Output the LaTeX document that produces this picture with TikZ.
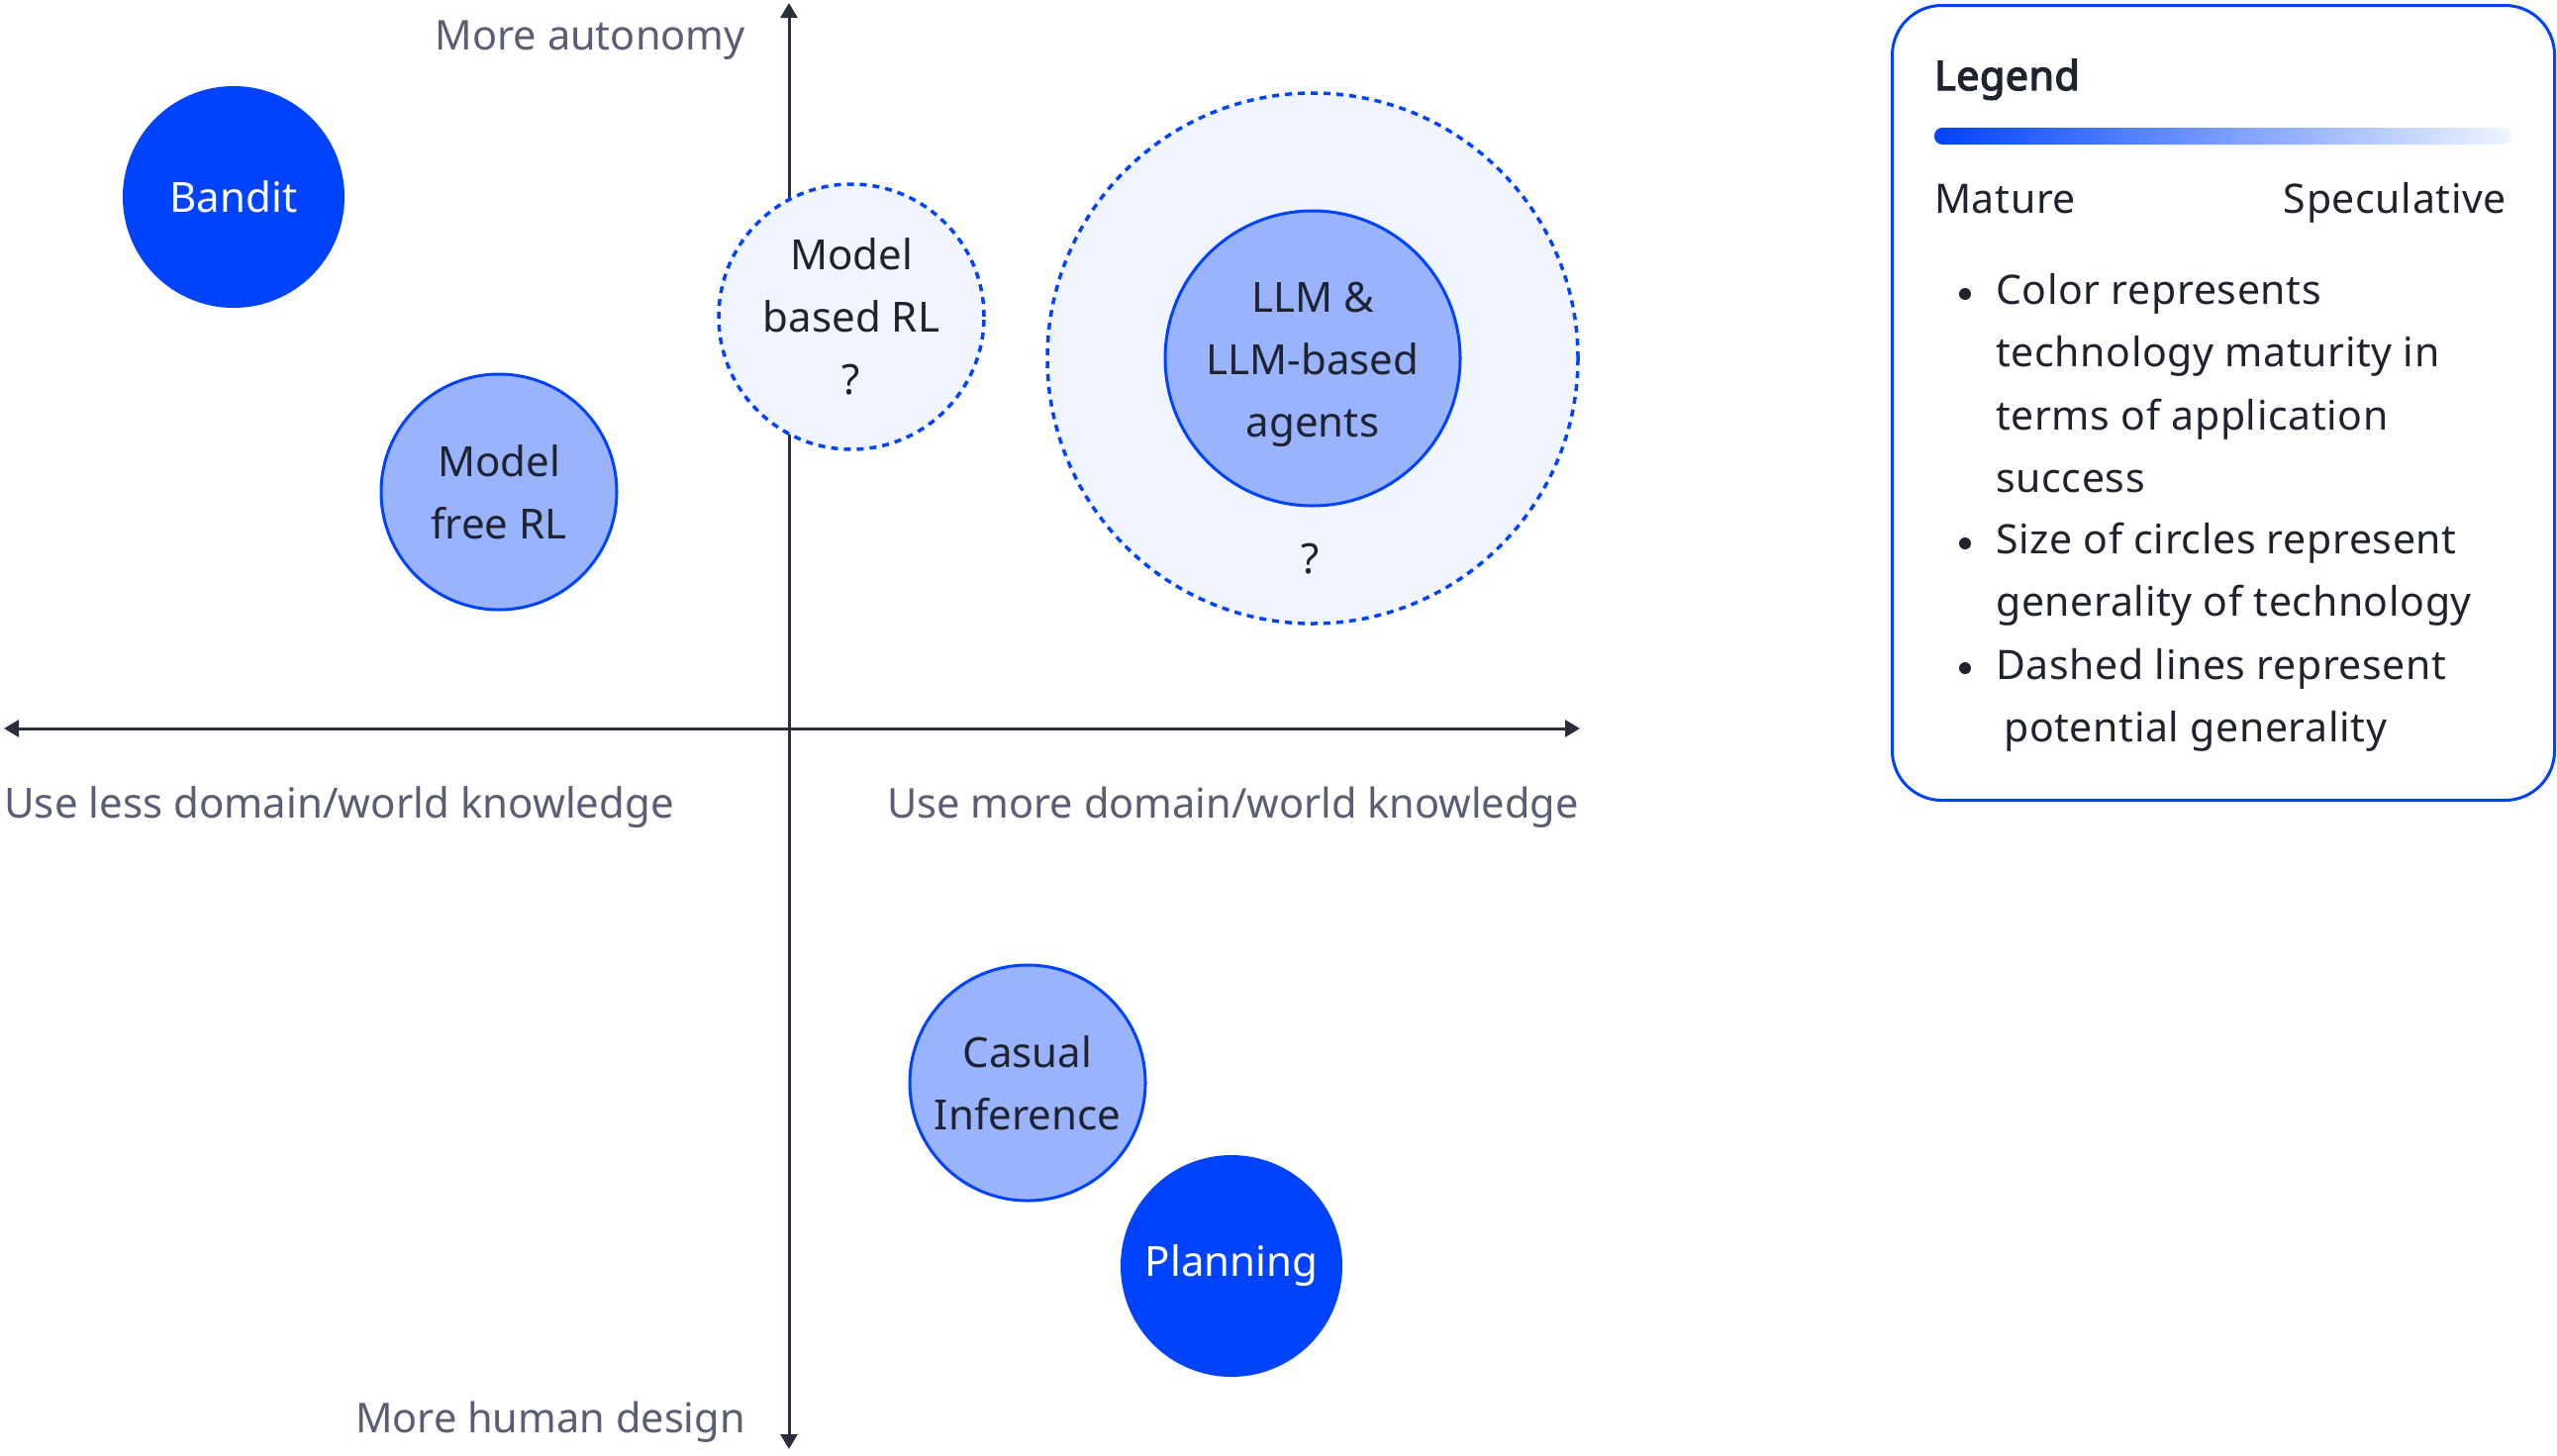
\documentclass[tikz,border=0pt]{standalone}
\usepackage{fontspec}
\setmainfont{Noto Sans}
\newfontfamily\legfont{Noto Sans}[LetterSpace=1.5]
\newfontfamily\legboldfont{Noto Sans}[FakeBold=3.5,LetterSpace=1.5]
\usetikzlibrary{arrows.meta}
\definecolor{deepblue}{HTML}{0043FF}
\definecolor{lightblue}{HTML}{99B3FF}
\definecolor{paleblue}{HTML}{F0F5FF}
\definecolor{inkdark}{HTML}{1F2330}
\definecolor{axisgray}{HTML}{5A5D74}
\definecolor{axisline}{HTML}{2B2F3B}
\tikzset{
  circtext/.style={font=\fontsize{42}{63}\selectfont, align=center, inner sep=0pt, circle},
  maturecirc/.style={circtext, fill=deepblue, text=white},
  midcirc/.style={circtext, fill=lightblue, draw=deepblue, line width=3pt, text=inkdark},
  specirc/.style={circtext, fill=paleblue, draw=deepblue, line width=3.5pt, dash pattern=on 7pt off 6pt, text=inkdark},
  axislabel/.style={font=\fontsize{41.5}{46}\selectfont, text=axisgray, inner sep=0pt},
  axisarrow/.style={draw=axisline, line width=3pt, -{Triangle[width=17pt,length=15pt]}},
  legtext/.style={font=\legfont\fontsize{41}{63}\selectfont, text=inkdark, inner sep=0pt},
  legbullet/.style={circle, fill=inkdark, inner sep=0pt, minimum size=12pt},
}
\begin{document}
\begin{tikzpicture}[x=1pt,y=-1pt]
\useasboundingbox (0,0) rectangle (2583,1470);
% axes
\coordinate (origin) at (797,736);
\coordinate (ytop) at (797,3);
\coordinate (ybot) at (797,1464);
\coordinate (xleft) at (4,736);
\coordinate (xright) at (1596,736);
\draw[axisarrow] (origin) -- (ytop);
\draw[axisarrow] (origin) -- (ybot);
\draw[axisarrow] (origin) -- (xleft);
\draw[axisarrow] (origin) -- (xright);
\node[axislabel, anchor=base east] (lblup) at (753,50) {More autonomy};
\node[axislabel, anchor=base east] (lbldown) at (753,1447) {More human design};
\node[axislabel, anchor=base west, font=\fontsize{42}{46}\selectfont] (lblleft) at (4,826) {Use less domain/world knowledge};
\node[axislabel, anchor=base east] (lblright) at (1595,826) {Use more domain/world knowledge};
% circles
\node[maturecirc, minimum size=224pt] (bandit) at (236,199) {Bandit};
\node[midcirc, minimum size=238pt] (mfrl) at (504,497) {Model\\free RL};
\node[specirc, minimum size=268pt] (mbrl) at (860,320) {Model\\based RL\\?};
\node[specirc, minimum size=536pt] (llmpot) at (1326,362) {};
\node[midcirc, minimum size=298pt] (llm) at (1326,362) {};
\node[circtext, text=inkdark] (llmtext) at (1326,368) {LLM \&\\LLM-based\\agents};
\node[circtext, text=inkdark] (llmq) at (1324,565) {?};
\node[midcirc, minimum size=238pt] (causal) at (1038,1094) {Casual\\Inference};
\node[maturecirc, minimum size=224pt] (plan) at (1244,1279) {Planning};
% legend
\node[draw=deepblue, line width=3pt, rounded corners=50pt, fill=white, minimum width=669pt, minimum height=803pt, anchor=north west, inner sep=0pt] (legendbox) at (1910,4) {};
\node[text=inkdark, inner sep=0pt, font=\legboldfont\fontsize{41}{63}\selectfont, anchor=base west] (legtitle) at (1954,91) {Legend};
\shade[left color=deepblue, right color=paleblue, rounded corners=8pt] (1954,129) rectangle (2537,146);
\node[legtext, anchor=base west] (mature) at (1954,215) {Mature};
\node[legtext, anchor=base east] (spec) at (2532,215) {Speculative};
\node[legbullet] (bul1) at (1985,297) {};
\node[legtext, anchor=base west] (l1) at (2016,307) {Color represents};
\node[legtext, anchor=base west] (l2) at (2016,370) {technology maturity in};
\node[legtext, anchor=base west] (l3) at (2016,434) {terms of application};
\node[legtext, anchor=base west] (l4) at (2016,497) {success};
\node[legbullet] (bul2) at (1985,549) {};
\node[legtext, anchor=base west] (l5) at (2016,559) {Size of circles represent};
\node[legtext, anchor=base west] (l6) at (2016,622) {generality of technology};
\node[legbullet] (bul3) at (1985,675) {};
\node[legtext, anchor=base west] (l7) at (2016,686) {Dashed lines represent};
\node[legtext, anchor=base west] (l8) at (2024,749) {potential generality};
\end{tikzpicture}
\end{document}
